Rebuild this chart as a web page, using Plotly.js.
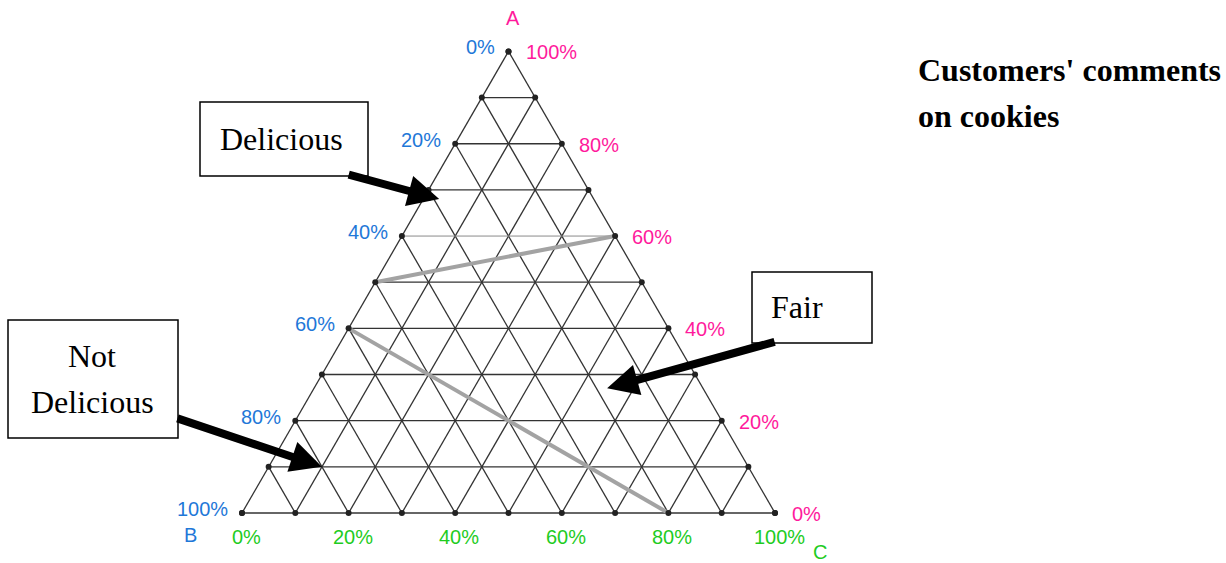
<!DOCTYPE html>
<html>
<head>
<meta charset="utf-8">
<script src="https://cdn.plot.ly/plotly-3.0.1.min.js"></script>
<style>
  html, body { margin: 0; padding: 0; background: #fff; }
  #chart { width: 1226px; height: 563px; }
</style>
</head>
<body>
<div id="chart"></div>
<script>
// Ternary grid levels (percent)
const gridLevels = [10, 20, 30, 40, 50, 60, 70, 80, 90];
const edgeLevels = [0, 10, 20, 30, 40, 50, 60, 70, 80, 90, 100];

// Edge tick labels
const bTicks = [0, 20, 40, 60, 80, 100];
const bLabels = ["0%", "20%", "40%", "60%", "80%", "100%"];
const aTicks = [100, 80, 60, 40, 20, 0];
const aLabels = ["100%", "80%", "60%", "40%", "20%", "0%"];
const cTicks = [0, 20, 40, 60, 80, 100];
const cLabels = ["0%", "20%", "40%", "60%", "80%", "100%"];

// Dividing lines between comment regions (A, B, C in percent)
const divFromA = [50, 40];
const divFromB = [50, 60];
const divFromC = [0, 0];
const divToA = [60, 0];
const divToB = [0, 20];
const divToC = [40, 80];

// Callouts pointing into the triangle
const calloutLines = [["Delicious"], ["Fair"], ["Not", "Delicious"]];
const tipA = [68, 27, 10];
const tipB = [29, 18, 80];
const tipC = [3, 55, 10];

const BLUE = "#1f78d8";
const PINK = "#ff1a9c";
const GREEN = "#1fcc1f";
const GRID = "#333333";

const H = Math.sqrt(3) / 2;
function toXY(a, b, c) {
  const s = a + b + c;
  return [(c + a / 2) / s, (a * H) / s];
}

// Grid lines: constant A, B and C
const gx = [], gy = [];
const lx = [], ly = [];
function seg(p, q, xs, ys) { xs.push(p[0], q[0], null); ys.push(p[1], q[1], null); }
[0].concat(gridLevels).forEach(v => {
  const tx = (v === 60) ? lx : gx, ty = (v === 60) ? ly : gy;
  seg(toXY(v, 100 - v, 0), toXY(v, 0, 100 - v), tx, ty);   // const A
  seg(toXY(100 - v, v, 0), toXY(0, v, 100 - v), gx, gy);   // const B
  seg(toXY(100 - v, 0, v), toXY(0, 100 - v, v), gx, gy);   // const C
});

// Edge dots
const dx = [], dy = [];
edgeLevels.forEach(v => {
  [toXY(100 - v, v, 0), toXY(v, 0, 100 - v), toXY(0, 100 - v, v)].forEach(p => { dx.push(p[0]); dy.push(p[1]); });
});

// Dividing lines
const divX = [], divY = [];
divFromA.forEach((_, i) => {
  seg(toXY(divFromA[i], divFromB[i], divFromC[i]), toXY(divToA[i], divToB[i], divToC[i]), divX, divY);
});

const traces = [
  { x: gx, y: gy, mode: "lines", line: { color: GRID, width: 1.3 }, hoverinfo: "skip" },
  { x: lx, y: ly, mode: "lines", line: { color: "#8a8a8a", width: 1 }, hoverinfo: "skip" },
  { x: divX, y: divY, mode: "lines", line: { color: "#a3a3a3", width: 4 }, hoverinfo: "skip" },
  { x: dx, y: dy, mode: "markers", marker: { color: "#222", size: 6 }, hoverinfo: "skip" }
];

const W = 1226, HT = 563;
const px = v => v / W, py = v => 1 - v / HT;
const ann = [];
const sans = "Liberation Sans, Arial, sans-serif";
const serif = "Liberation Serif, Times New Roman, serif";
const tick = (txt, col, p, xa, xs, ys) => ann.push({
  x: p[0], y: p[1], xref: "x", yref: "y", text: txt, showarrow: false,
  xanchor: xa, yanchor: "middle", xshift: xs, yshift: ys,
  font: { family: sans, size: 20, color: col }
});
bTicks.forEach((v, i) => tick(bLabels[i], BLUE, toXY(100 - v, v, 0), "right", -12, 4));
aTicks.forEach((v, i) => tick(aLabels[i], PINK, toXY(v, 0, 100 - v), "left", 15, -1));
cTicks.forEach((v, i) => tick(cLabels[i], GREEN, toXY(0, 100 - v, v), "center", 4, -24));

const letter = (txt, col, x, y) => ann.push({
  x: px(x), y: py(y), xref: "paper", yref: "paper", text: txt, showarrow: false,
  xanchor: "center", yanchor: "middle",
  font: { family: sans, size: 20, color: col }
});
letter("A", PINK, 513, 18);
letter("B", BLUE, 190, 535);
letter("C", GREEN, 820, 552);

// Callout boxes
const boxes = [[200, 102, 368, 176], [752, 272, 872, 343], [8, 320, 178, 438]];
const textPos = [[[281, 139]], [[797, 307]], [[92, 356], [92, 402]]];
const shapes = boxes.map(b => ({
  type: "rect", xref: "paper", yref: "paper",
  x0: px(b[0]), x1: px(b[2]), y0: py(b[3]), y1: py(b[1]),
  line: { color: "#000", width: 1.5 }, fillcolor: "rgba(0,0,0,0)"
}));
calloutLines.forEach((lines, i) => lines.forEach((t, j) => ann.push({
  x: px(textPos[i][j][0]), y: py(textPos[i][j][1]), xref: "paper", yref: "paper",
  text: t, showarrow: false, xanchor: "center", yanchor: "middle",
  font: { family: serif, size: 32, color: "#000" }
})));

// Arrows (tail offsets in pixels from the tip)
const tails = [[-92, -25], [169, -47], [-146, -49]];
calloutLines.forEach((_, i) => {
  const p = toXY(tipA[i], tipB[i], tipC[i]);
  ann.push({
    x: p[0], y: p[1], xref: "x", yref: "y", text: " ", showarrow: true,
    ax: tails[i][0], ay: tails[i][1], arrowcolor: "#000", arrowwidth: 8,
    arrowhead: 2, arrowsize: 0.78, standoff: 0, startstandoff: 0,
    font: { size: 1 }
  });
});

// Title
const titleFont = { family: serif, size: 32, color: "#000" };
ann.push({ x: px(916), y: py(70), xref: "paper", yref: "paper", text: "<b>Customers' comments</b>",
  showarrow: false, xanchor: "left", yanchor: "middle", font: titleFont });
ann.push({ x: px(916), y: py(116), xref: "paper", yref: "paper", text: "<b>on cookies</b>",
  showarrow: false, xanchor: "left", yanchor: "middle", font: titleFont });

const layout = {
  width: W, height: HT,
  margin: { l: 0, r: 0, t: 0, b: 0 },
  paper_bgcolor: "#fff", plot_bgcolor: "#fff",
  showlegend: false,
  xaxis: { range: [-242 / 533, (W - 242) / 533], visible: false, fixedrange: true },
  yaxis: { range: [(513 - HT) / 533, 513 / 533], visible: false, fixedrange: true },
  shapes: shapes,
  annotations: ann
};

Plotly.newPlot("chart", traces, layout, { displayModeBar: false, staticPlot: true });
</script>
</body>
</html>
